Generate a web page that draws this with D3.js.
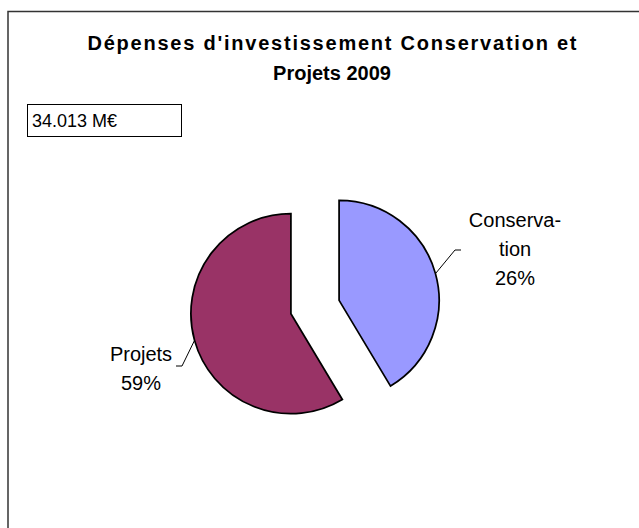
<!DOCTYPE html>
<html>
<head>
<meta charset="utf-8">
<script src="https://cdn.jsdelivr.net/npm/d3@7"></script>
<style>
  body { margin: 0; background: #fff; }
  svg { display: block; }
  text { font-family: "Liberation Sans", Arial, sans-serif; fill: #000; }
</style>
</head>
<body>
<svg id="chart" width="639" height="528"></svg>
<script>
// data
var categories = ["Conservation", "Projets"];
var shares = [41.4, 58.6];            // slice sizes as drawn
var labelLines = [["Conserva-", "tion", "26%"], ["Projets", "59%"]];
var colors = ["#9999ff", "#993366"];
var titleLines = ["Dépenses d'investissement Conservation et", "Projets 2009"];
var totalLabel = "34.013 M€";

var width = 639, height = 528;
var cx = 315, cy = 307, radius = 100, explode = 25;

var svg = d3.select('#chart');

// frame (runs off right/bottom edge)
svg.append('rect')
    .attr('x', 8).attr('y', 11.5)
    .attr('width', 700).attr('height', 600)
    .attr('fill', 'none')
    .attr('stroke', '#333')
    .attr('stroke-width', 1.5);

// title
var titleWidths = [489, null];

svg.append('text')
    .attr('text-anchor', 'middle')
    .attr('font-weight', 'bold')
    .attr('font-size', 20)
    .selectAll('tspan')
    .data(titleLines)
    .enter()
    .append('tspan')
    .attr('x', 332)
    .attr('y', (d, i) => 50 + i * 30)
    .attr('textLength', (d, i) => titleWidths[i])
    .attr('lengthAdjust', 'spacing')
    .text(d => d);

// total box
svg.append('rect')
    .attr('x', 27.5).attr('y', 104.5)
    .attr('width', 154).attr('height', 32)
    .attr('fill', '#fff')
    .attr('stroke', '#000')
    .attr('stroke-width', 1);

svg.append('text')
    .attr('x', 32).attr('y', 127)
    .attr('font-size', 18)
    .text(totalLabel);

// pie
var pie = d3.pie().sort(null).value(d => d);
var arcs = pie(shares);

var arc = d3.arc().innerRadius(0).outerRadius(radius);

var g = svg.append('g').attr('transform', `translate(${cx} ${cy})`);

function offset(d, r) {
    var a = (d.startAngle + d.endAngle) / 2;
    return [Math.sin(a) * r, -Math.cos(a) * r];
}

g.selectAll('path')
    .data(arcs)
    .enter()
    .append('path')
    .attr('transform', d => `translate(${offset(d, explode)})`)
    .attr('d', arc)
    .attr('fill', (d, i) => colors[i])
    .attr('stroke', '#000')
    .attr('stroke-width', 1.75);

// labels, placed relative to pie centre
var labelPos = [
    { x: 200, y: -80, anchor: 'middle', elbow: [140, -57], tail: 6 },
    { x: -174, y: 54, anchor: 'middle', elbow: [-133, 59], tail: -6 }
];

arcs.forEach(function(d, i) {
    var o = offset(d, explode);
    var s = offset(d, radius);
    var p = labelPos[i];
    var e = p.elbow;

    g.append('polyline')
        .attr('points', [[o[0] + s[0], o[1] + s[1]], e, [e[0] + p.tail, e[1]]].join(' '))
        .attr('fill', 'none')
        .attr('stroke', '#000')
        .attr('stroke-width', 1);

    g.append('text')
        .attr('text-anchor', p.anchor)
        .attr('font-size', 20)
        .selectAll('tspan')
        .data(labelLines[i])
        .enter()
        .append('tspan')
        .attr('x', p.x)
        .attr('y', (t, j) => p.y + j * 29)
        .text(t => t);
});
</script>
</body>
</html>
